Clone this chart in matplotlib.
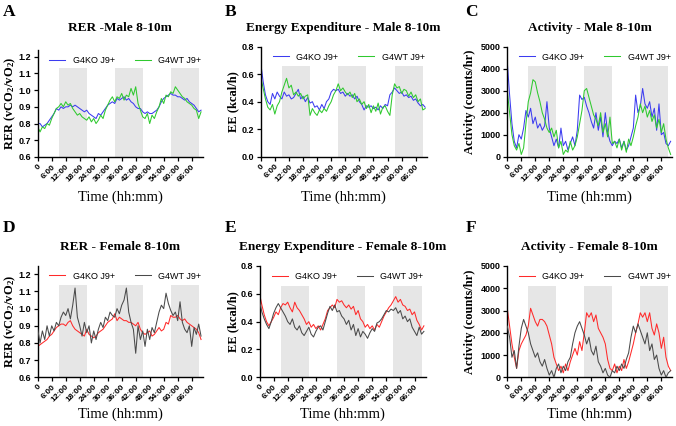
import matplotlib
matplotlib.use('Agg')
import matplotlib.pyplot as plt
import numpy as np

plt.rcParams['mathtext.fontset'] = 'custom'
plt.rcParams['mathtext.rm'] = 'Liberation Serif:bold'
plt.rcParams['mathtext.it'] = 'Liberation Serif:bold'
plt.rcParams['mathtext.bf'] = 'Liberation Serif:bold'

# time axis, hours since start
hours = np.arange(0, 71)
xtick_pos = np.arange(0, 67, 6)
xtick_lab = ['0'] + [f'{h}:00' for h in range(6, 67, 6)]
dark_start = [9, 33, 57]
dark_len = 12

# RER male
rer_m_ko = [0.80, 0.80, 0.78, 0.79, 0.80, 0.82, 0.84, 0.86, 0.89, 0.88,
            0.90, 0.89, 0.90, 0.90, 0.91, 0.90, 0.91, 0.90, 0.89, 0.88,
            0.87, 0.88, 0.86, 0.85, 0.84, 0.83, 0.86, 0.85, 0.87, 0.89,
            0.91, 0.92, 0.93, 0.92, 0.95, 0.94, 0.95, 0.96, 0.94, 0.95,
            0.93, 0.92, 0.90, 0.89, 0.89, 0.87, 0.86, 0.87, 0.86, 0.86,
            0.87, 0.88, 0.90, 0.93, 0.95, 0.96, 0.97, 0.98, 0.97, 0.97,
            0.96, 0.96, 0.95, 0.94, 0.95, 0.93, 0.92, 0.91, 0.89, 0.87, 0.88]
rer_m_wt = [0.78, 0.75, 0.78, 0.77, 0.80, 0.79, 0.83, 0.86, 0.89, 0.90,
            0.92, 0.90, 0.93, 0.91, 0.92, 0.89, 0.87, 0.85, 0.86, 0.84,
            0.83, 0.82, 0.84, 0.81, 0.83, 0.80, 0.82, 0.85, 0.83, 0.88,
            0.91, 0.94, 0.96, 0.93, 0.96, 0.95, 0.98, 0.94, 0.97, 0.96,
            1.01, 0.97, 1.02, 0.92, 0.88, 0.84, 0.83, 0.86, 0.80, 0.85,
            0.83, 0.87, 0.90, 0.95, 0.92, 0.97, 0.96, 0.99, 0.98, 1.02,
            1.00, 0.98, 0.96, 0.95, 0.93, 0.92, 0.91, 0.89, 0.88, 0.83, 0.87]

# Energy expenditure male
ee_m_ko = [0.68, 0.55, 0.45, 0.40, 0.38, 0.46, 0.42, 0.47, 0.44, 0.42,
           0.47, 0.44, 0.45, 0.42, 0.43, 0.46, 0.49, 0.42, 0.44, 0.40,
           0.43, 0.39, 0.40, 0.36, 0.37, 0.34, 0.38, 0.35, 0.40, 0.42,
           0.47, 0.49, 0.48, 0.49, 0.46, 0.47, 0.44, 0.46, 0.44, 0.45,
           0.42, 0.44, 0.40, 0.38, 0.34, 0.37, 0.36, 0.37, 0.35, 0.36,
           0.34, 0.37, 0.35, 0.38, 0.37, 0.45, 0.47, 0.50, 0.48, 0.46,
           0.47, 0.44, 0.45, 0.43, 0.44, 0.41, 0.42, 0.39, 0.37, 0.38, 0.36]
ee_m_wt = [0.58, 0.50, 0.42, 0.36, 0.34, 0.38, 0.31, 0.37, 0.40, 0.47,
           0.52, 0.57, 0.50, 0.52, 0.45, 0.47, 0.44, 0.46, 0.42, 0.44,
           0.45, 0.30, 0.35, 0.32, 0.30, 0.34, 0.32, 0.35, 0.33, 0.37,
           0.40, 0.45, 0.48, 0.53, 0.48, 0.50, 0.47, 0.45, 0.47, 0.43,
           0.46, 0.40, 0.42, 0.38, 0.40, 0.35, 0.38, 0.32, 0.37, 0.33,
           0.39, 0.31, 0.36, 0.37, 0.33, 0.30, 0.45, 0.53, 0.50, 0.51,
           0.46, 0.49, 0.48, 0.44, 0.47, 0.43, 0.45, 0.40, 0.42, 0.34, 0.35]

# Activity male
act_m_ko = [4300, 2800, 1500, 700, 400, 1000, 800, 1300, 2100, 1800,
            2200, 1500, 1800, 1300, 1500, 1200, 1400, 2500, 1300, 900,
            500, 800, 400, 1300, 500, 700, 300, 600, 900, 500,
            1200, 2800, 2600, 2700, 2300, 2000, 1600, 1300, 2000, 1200,
            1800, 900, 2000, 1100, 700, 500, 700, 600, 800, 400,
            700, 300, 500, 900, 1300, 2800, 2000, 2300, 3100, 2400,
            2200, 2500, 1800, 2200, 1200, 2400, 1000, 1100, 600, 500, 700]
act_m_wt = [3000, 2000, 1000, 500, 300, 600, 100, 400, 1500, 2500,
            2900, 3500, 3400, 2900, 2500, 2000, 1700, 1300, 1100, 1300,
            900, 1200, 400, 700, 100, 300, 200, 700, 300, 500,
            900, 1500, 2100, 3000, 3100, 2700, 2300, 1900, 1700, 1400,
            2000, 1100, 1500, 900, 1800, 600, 700, 400, 800, 300,
            700, 200, 800, 500, 900, 1400, 1800, 2400, 2000, 2300,
            1800, 2100, 1600, 1900, 1300, 1700, 1100, 1500, 800, 400, 100]

# RER female
rer_f_ko = [0.78, 0.79, 0.80, 0.81, 0.82, 0.84, 0.85, 0.87, 0.89, 0.90,
            0.91, 0.91, 0.90, 0.92, 0.93, 0.90, 0.88, 0.87, 0.86, 0.85,
            0.84, 0.88, 0.85, 0.84, 0.83, 0.84, 0.86, 0.87, 0.88, 0.90,
            0.92, 0.93, 0.94, 0.97, 0.93, 0.95, 0.94, 0.93, 0.93, 0.92,
            0.92, 0.91, 0.90, 0.92, 0.88, 0.86, 0.85, 0.86, 0.87, 0.84,
            0.85, 0.87, 0.89, 0.87, 0.88, 0.92, 0.91, 0.96, 0.95, 0.95,
            0.96, 0.94, 0.93, 0.94, 0.92, 0.91, 0.90, 0.89, 0.88, 0.86, 0.82]
rer_f_wt = [0.88, 0.80, 0.87, 0.82, 0.90, 0.84, 0.90, 0.87, 0.92, 0.90,
            0.95, 0.98, 0.96, 1.00, 0.94, 1.02, 1.12, 0.95, 0.90, 0.84,
            0.92, 0.86, 0.90, 0.80, 0.87, 0.82, 0.88, 0.92, 0.89, 0.95,
            0.93, 0.98, 0.96, 0.95, 1.00, 0.97, 1.02, 1.05, 1.12, 0.98,
            0.92, 0.88, 0.74, 0.90, 0.82, 0.87, 0.78, 0.88, 0.82, 0.89,
            0.86, 0.92, 0.98, 1.02, 1.00, 1.09, 1.03, 0.99, 0.96, 0.98,
            0.93, 1.04, 0.92, 0.88, 0.86, 0.90, 0.78, 0.89, 0.85, 0.91, 0.84]

# Energy expenditure female
ee_f_ko = [0.60, 0.52, 0.45, 0.40, 0.37, 0.40, 0.43, 0.47, 0.45, 0.50,
           0.53, 0.52, 0.54, 0.50, 0.47, 0.54, 0.50, 0.48, 0.45, 0.42,
           0.38, 0.40, 0.36, 0.38, 0.35, 0.37, 0.34, 0.38, 0.42, 0.48,
           0.50, 0.52, 0.50, 0.56, 0.54, 0.55, 0.52, 0.50, 0.52, 0.49,
           0.51, 0.45, 0.48, 0.42, 0.40, 0.36, 0.38, 0.35, 0.37, 0.34,
           0.38, 0.36, 0.40, 0.44, 0.47, 0.50, 0.52, 0.55, 0.58, 0.54,
           0.56, 0.52, 0.51, 0.48, 0.49, 0.45, 0.47, 0.41, 0.38, 0.34, 0.37]
ee_f_wt = [0.55, 0.47, 0.42, 0.38, 0.35, 0.40, 0.46, 0.50, 0.53, 0.50,
           0.47, 0.44, 0.40, 0.38, 0.42, 0.36, 0.34, 0.37, 0.32, 0.30,
           0.33, 0.36, 0.31, 0.29, 0.33, 0.36, 0.37, 0.34, 0.40, 0.46,
           0.51, 0.48, 0.52, 0.47, 0.48, 0.44, 0.42, 0.38, 0.41, 0.34,
           0.38, 0.30, 0.35, 0.29, 0.33, 0.31, 0.28, 0.32, 0.35, 0.33,
           0.39, 0.40, 0.42, 0.45, 0.48, 0.47, 0.49, 0.48, 0.50, 0.46,
           0.48, 0.42, 0.44, 0.40, 0.42, 0.36, 0.33, 0.30, 0.36, 0.31, 0.33]

# Activity female
act_f_ko = [3100, 2300, 1500, 900, 400, 1200, 1500, 1700, 1900, 2300,
            3100, 2800, 2500, 2300, 2600, 2600, 2500, 2300, 1900, 1500,
            900, 600, 300, 500, 200, 600, 300, 700, 1000, 1300,
            1000, 1600, 1200, 2000, 2900, 2700, 2900, 2500, 2800, 2200,
            2000, 1800, 1500, 800, 400, 300, 600, 200, 500, 300,
            800, 400, 700, 1100, 1500, 2000, 2400, 2900, 2700, 2900,
            2500, 2900, 2200, 1900, 2400, 2000, 1300, 1800, 900, 500, 300]
act_f_wt = [2300, 1800, 900, 1200, 400, 1400, 2200, 2600, 2300, 2000,
            1500, 1200, 900, 1100, 700, 500, 800, 400, 100, 300,
            0, 400, 600, 200, 500, 300, 700, 900, 1500, 2000,
            2300, 2500, 2200, 1900, 1500, 1800, 1200, 1000, 1400, 700,
            500, 200, 400, 100, 0, 300, 200, 500, 300, 600,
            400, 800, 1100, 1800, 2300, 2000, 2400, 2100, 1800, 1500,
            2000, 1200, 1500, 800, 1000, 400, 100, 300, 0, 200, 300]

labels = ['G4KO J9+', 'G4WT J9+']
blue = '#3c3cf0'
green = '#2fc92f'
red = '#ff2a2a'
grey = '#4a4a4a'

panels = [
    dict(letter='A', title='RER -Male 8-10m', ylabel='RER (vCO$_2$/vO$_2$)',
         ko=rer_m_ko, wt=rer_m_wt, colors=(blue, green),
         ylim=(0.6, 1.24), yticks=np.arange(0.6, 1.21, 0.1), fmt='{:.1f}', shade=1.135,
         rect=[0.0558, 0.6315, 0.244, 0.2512]),
    dict(letter='B', title='Energy Expenditure - Male 8-10m', ylabel='EE (kcal/h)',
         ko=ee_m_ko, wt=ee_m_wt, colors=(blue, green),
         ylim=(0, 0.8), yticks=np.arange(0, 0.81, 0.2), fmt='{:.1f}', shade=0.66,
         rect=[0.3857, 0.6322, 0.2456, 0.2582]),
    dict(letter='C', title='Activity - Male 8-10m', ylabel='Activity (counts/hr)',
         ko=act_m_ko, wt=act_m_wt, colors=(blue, green),
         ylim=(0, 5000), yticks=np.arange(0, 5001, 1000), fmt='{:.0f}', shade=4120,
         rect=[0.7504, 0.6322, 0.2441, 0.2582]),
    dict(letter='D', title='RER - Female 8-10m', ylabel='RER (vCO$_2$/vO$_2$)',
         ko=rer_f_ko, wt=rer_f_wt, colors=(red, grey),
         ylim=(0.6, 1.25), yticks=np.arange(0.6, 1.21, 0.1), fmt='{:.1f}', shade=1.137,
         rect=[0.0558, 0.1143, 0.244, 0.262]),
    dict(letter='E', title='Energy Expenditure - Female 8-10m', ylabel='EE (kcal/h)',
         ko=ee_f_ko, wt=ee_f_wt, colors=(red, grey),
         ylim=(0, 0.8), yticks=np.arange(0, 0.81, 0.2), fmt='{:.1f}', shade=0.658,
         rect=[0.3839, 0.1143, 0.2456, 0.2613]),
    dict(letter='F', title='Activity - Female 8-10m', ylabel='Activity (counts/hr)',
         ko=act_f_ko, wt=act_f_wt, colors=(red, grey),
         ylim=(0, 5000), yticks=np.arange(0, 5001, 1000), fmt='{:.0f}', shade=4115,
         rect=[0.7504, 0.1143, 0.2441, 0.2613]),
]

serif = 'Liberation Serif'
sans = 'Liberation Sans'
W, H = 676, 426

fig = plt.figure(figsize=(6.76, 4.26), dpi=100)

# pixel positions of letters / labels
letter_x = {'A': 9, 'B': 231, 'C': 471, 'D': 9, 'E': 231, 'F': 471}
ylab_x = {'A': 10, 'B': 233, 'C': 470, 'D': 10, 'E': 233, 'F': 470}

for i, p in enumerate(panels):
    ax = fig.add_axes(p['rect'])
    top_row = i < 3
    for s in dark_start:
        ax.fill_between([s, s + dark_len], p['ylim'][0], p['shade'],
                        color='#e6e6e6', lw=0, zorder=0)
    l1, = ax.plot(hours, p['ko'], color=p['colors'][0], lw=0.75, zorder=2)
    l2, = ax.plot(hours, p['wt'], color=p['colors'][1], lw=0.75, zorder=2 if top_row else 3)

    ax.set_xlim(0, 70.7)
    ax.set_ylim(*p['ylim'])
    ax.set_xticks(xtick_pos)
    ax.set_xticklabels(xtick_lab, rotation=45, ha='right', rotation_mode='anchor',
                       fontsize=6, family=sans, fontweight='bold')
    ax.set_yticks(p['yticks'])
    ax.set_yticklabels([p['fmt'].format(v) for v in p['yticks']],
                       fontsize=6.5, family=sans, fontweight='bold')
    for side in ['top', 'right']:
        ax.spines[side].set_visible(False)
    for side in ['left', 'bottom']:
        ax.spines[side].set_linewidth(1.0)
    ax.tick_params(direction='out', length=3, width=0.9, pad=1.5)

    ax.legend([l1, l2], labels, loc='upper center', bbox_to_anchor=(0.53, 1.02),
              ncol=2, frameon=False, handlelength=1.8, columnspacing=2.2,
              prop={'family': sans, 'size': 6.5})

    l, b, w, h = p['rect']
    cx = l + w / 2
    row_y = 28 if top_row else 247
    xl_y = 197 if top_row else 414
    fig.text(cx, 1 - row_y / H, p['title'], ha='center', va='center',
             family=serif, fontweight='bold', fontsize=9.5)
    fig.text(cx, 1 - xl_y / H, 'Time (hh:mm)', ha='center', va='center',
             family=serif, fontsize=10.5)
    fig.text(ylab_x[p['letter']] / W, b + h / 2, p['ylabel'], rotation=90,
             ha='center', va='center', family=serif, fontweight='bold', fontsize=9)
    let_y = 12 if top_row else 228
    fig.text(letter_x[p['letter']] / W, 1 - let_y / H, p['letter'], ha='center',
             va='center', family=serif, fontweight='bold', fontsize=12.5)

fig.savefig('out.png', dpi=100)
